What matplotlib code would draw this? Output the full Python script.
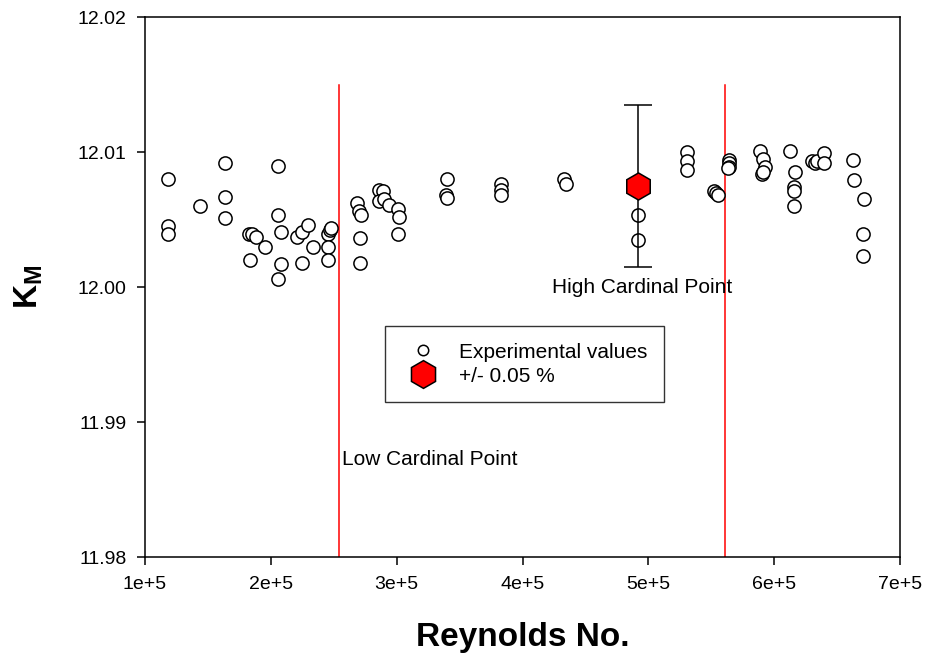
import matplotlib
matplotlib.use("Agg")
import matplotlib.pyplot as plt
from matplotlib.lines import Line2D
from matplotlib.ticker import FixedLocator

plt.rcParams['font.family'] = ['Liberation Sans', 'DejaVu Sans']
plt.rcParams['mathtext.fontset'] = 'custom'
plt.rcParams['mathtext.rm'] = 'Liberation Sans'
plt.rcParams['mathtext.bf'] = 'Liberation Sans:bold'

# Experimental data (Reynolds number, K_M)
re_exp = [1.183e5, 1.183e5, 1.183e5, 1.437e5, 1.638e5, 1.638e5, 1.638e5,
          1.83e5, 1.85e5, 1.88e5, 1.954e5, 1.835e5,
          2.055e5, 2.055e5, 2.081e5, 2.08e5, 2.055e5,
          2.21e5, 2.245e5, 2.298e5, 2.333e5, 2.25e5,
          2.457e5, 2.47e5, 2.48e5, 2.457e5, 2.457e5,
          2.683e5, 2.704e5, 2.715e5, 2.71e5, 2.71e5,
          2.86e5, 2.894e5, 2.86e5, 2.90e5, 2.942e5, 3.014e5, 3.022e5, 3.014e5,
          3.398e5, 3.39e5, 3.398e5,
          3.828e5, 3.828e5, 3.828e5,
          4.333e5, 4.344e5,
          4.92e5, 4.92e5,
          5.306e5, 5.306e5, 5.306e5,
          5.523e5, 5.539e5, 5.557e5,
          5.642e5, 5.642e5, 5.642e5, 5.637e5,
          5.889e5, 5.915e5, 5.925e5, 5.905e5, 5.915e5,
          6.122e5, 6.167e5, 6.154e5, 6.154e5, 6.154e5,
          6.30e5, 6.326e5, 6.34e5, 6.397e5, 6.397e5,
          6.625e5, 6.636e5, 6.718e5, 6.71e5, 6.71e5]
km_exp = [12.0080, 12.0045, 12.0039, 12.0060, 12.0092, 12.0067, 12.0051,
          12.0039, 12.0039, 12.0037, 12.0030, 12.0020,
          12.0090, 12.0053, 12.0041, 12.0017, 12.0006,
          12.0037, 12.0041, 12.0046, 12.0030, 12.0018,
          12.0039, 12.0042, 12.0044, 12.0030, 12.0020,
          12.0062, 12.0056, 12.0053, 12.0036, 12.0018,
          12.0072, 12.0071, 12.0064, 12.0065, 12.0061, 12.0058, 12.0052, 12.0039,
          12.0080, 12.0068, 12.0066,
          12.0076, 12.0072, 12.0068,
          12.0080, 12.0076,
          12.0053, 12.0035,
          12.0100, 12.0093, 12.0087,
          12.0071, 12.0070, 12.0068,
          12.0094, 12.0092, 12.0089, 12.0088,
          12.0101, 12.0095, 12.0089, 12.0084, 12.0085,
          12.0101, 12.0085, 12.0074, 12.0071, 12.0060,
          12.0093, 12.0092, 12.0093, 12.0099, 12.0092,
          12.0094, 12.0079, 12.0065, 12.0039, 12.0023]

# Uncertainty point (+/- 0.05 %)
re_unc = [4.92e5]
km_unc = [12.0075]
err_pct = 0.05

# Cardinal points
cardinal_re = [2.545e5, 5.61e5]
cardinal_labels = ["Low Cardinal Point", "High Cardinal Point"]

x_ticks = [1e5, 2e5, 3e5, 4e5, 5e5, 6e5, 7e5]
x_tick_labels = ["1e+5", "2e+5", "3e+5", "4e+5", "5e+5", "6e+5", "7e+5"]
y_ticks = [11.98, 11.99, 12.00, 12.01, 12.02]
y_tick_labels = ["11.98", "11.99", "12.00", "12.01", "12.02"]

fig = plt.figure(figsize=(9.28, 6.62), dpi=100)
ax = fig.add_axes([0.1563, 0.1586, 0.8135, 0.8157])

ax.plot(re_exp, km_exp, linestyle='none', marker='o', markersize=9.5,
        markerfacecolor='white', markeredgecolor='black', markeredgewidth=1.1, zorder=3)

err = [v * err_pct / 100 for v in km_unc]
ax.errorbar(re_unc, km_unc, yerr=err, fmt='none', ecolor='black', elinewidth=1.1,
            capsize=10, capthick=1.1, zorder=4)
ax.plot(re_unc, km_unc, linestyle='none', marker='h', markersize=19.5,
        markerfacecolor='#ff0000', markeredgecolor='black', markeredgewidth=1.1, zorder=5)

for xc in cardinal_re:
    ax.plot([xc, xc], [11.98, 12.015], color='#ff0000', linewidth=1.1, zorder=2)

ax.text(cardinal_re[0] + 0.02e5, 11.9872, cardinal_labels[0], fontsize=15,
        ha='left', va='center')
ax.text(4.95e5, 12.0000, cardinal_labels[1], fontsize=15, ha='center', va='center')

ax.set_xlim(1e5, 7e5)
ax.set_ylim(11.98, 12.02)
ax.xaxis.set_major_locator(FixedLocator(x_ticks))
ax.set_xticklabels(x_tick_labels)
ax.yaxis.set_major_locator(FixedLocator(y_ticks))
ax.set_yticklabels(y_tick_labels)
ax.tick_params(direction='out', length=5.5, width=1.1, labelsize=14, pad=8,
               top=False, right=False)
for s in ax.spines.values():
    s.set_linewidth(1.1)

ax.set_xlabel("Reynolds No.", fontsize=24, fontweight='bold', labelpad=21)
ax.set_ylabel(r"K$_\mathbf{M}$", fontsize=24, fontweight='bold', labelpad=23)

handles = [
    Line2D([], [], linestyle='none', marker='o', markersize=7.5,
           markerfacecolor='white', markeredgecolor='black', markeredgewidth=1.1),
    Line2D([], [], linestyle='none', marker='h', markersize=20,
           markerfacecolor='#ff0000', markeredgecolor='black', markeredgewidth=1.1),
]
leg = ax.legend(handles, ["Experimental values", "+/- 0.05 %"], loc='upper left',
                bbox_to_anchor=(0.318, 0.428), fontsize=15, frameon=True,
                fancybox=False, edgecolor='black', borderpad=0.8,
                handlelength=2.0, handletextpad=0.76, labelspacing=0.25,
                borderaxespad=0)
leg.get_frame().set_linewidth(1.0)

fig.savefig("out.png", dpi=100)
